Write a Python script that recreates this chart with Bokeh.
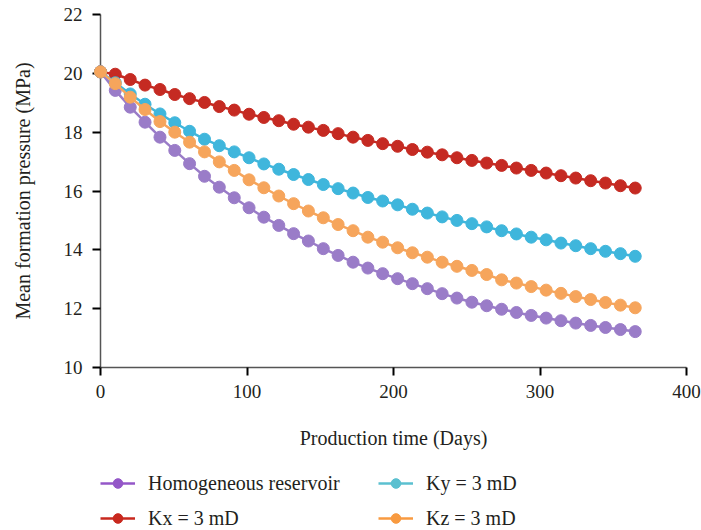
from bokeh.plotting import figure
from bokeh.models import Range1d, FixedTicker, Legend, LegendItem
from bokeh.layouts import column
from bokeh.embed import file_html
from bokeh.resources import INLINE

days = [0, 10.1, 20.3, 30.4, 40.6, 50.7, 60.8, 71.0, 81.1, 91.3, 101.4, 111.5,
        121.7, 131.8, 141.9, 152.1, 162.2, 172.4, 182.5, 192.6, 202.8, 212.9,
        223.1, 233.2, 243.3, 253.5, 263.6, 273.8, 283.9, 294.0, 304.2, 314.3,
        324.4, 334.6, 344.7, 354.9, 365.0]

homogeneous = [20.05, 19.42, 18.85, 18.34, 17.83, 17.38, 16.93, 16.50, 16.13, 15.77,
               15.43, 15.11, 14.83, 14.55, 14.30, 14.04, 13.81, 13.58, 13.38, 13.19,
               13.02, 12.85, 12.68, 12.51, 12.36, 12.22, 12.10, 11.98, 11.87, 11.77,
               11.68, 11.59, 11.51, 11.43, 11.36, 11.29, 11.22]

kx = [20.05, 19.97, 19.79, 19.60, 19.45, 19.28, 19.14, 19.01, 18.87, 18.75,
      18.61, 18.50, 18.39, 18.27, 18.17, 18.06, 17.95, 17.83, 17.72, 17.61,
      17.52, 17.41, 17.32, 17.23, 17.13, 17.04, 16.95, 16.87, 16.78, 16.70,
      16.61, 16.52, 16.44, 16.35, 16.27, 16.18, 16.10]

ky = [20.05, 19.68, 19.30, 18.95, 18.62, 18.32, 18.03, 17.76, 17.54, 17.33,
      17.13, 16.92, 16.74, 16.56, 16.39, 16.22, 16.08, 15.93, 15.78, 15.66,
      15.53, 15.38, 15.25, 15.12, 15.00, 14.89, 14.78, 14.65, 14.54, 14.43,
      14.34, 14.23, 14.14, 14.04, 13.95, 13.87, 13.78]

kz = [20.05, 19.65, 19.19, 18.77, 18.36, 18.00, 17.66, 17.33, 16.99, 16.70,
      16.38, 16.11, 15.83, 15.57, 15.32, 15.09, 14.86, 14.65, 14.43, 14.26,
      14.07, 13.90, 13.75, 13.58, 13.44, 13.30, 13.16, 12.98, 12.87, 12.75,
      12.63, 12.52, 12.41, 12.31, 12.21, 12.12, 12.03]

labels = ["Homogeneous reservoir", "Kx = 3 mD", "Ky = 3 mD", "Kz = 3 mD"]
colors = ["#9a7cc8", "#c52a22", "#3fb6dc", "#f6a55c"]
legend_colors = ["#9457c8", "#c8281e", "#5bc0d0", "#f89a40"]
series = [homogeneous, kx, ky, kz]
x_ticks = [0, 100, 200, 300, 400]
y_ticks = [10, 12, 14, 16, 18, 20, 22]

FONT = "Liberation Serif"
TXT = "#231f20"

p = figure(width=701, height=455, x_range=Range1d(0, 400), y_range=Range1d(10, 22),
           output_backend="svg", toolbar_location=None,
           min_border_left=100, min_border_right=15, min_border_top=14,
           min_border_bottom=88)
p.outline_line_color = None
p.xgrid.visible = False
p.ygrid.visible = False

p.xaxis.ticker = FixedTicker(ticks=x_ticks)
p.yaxis.ticker = FixedTicker(ticks=y_ticks)
p.xaxis.axis_label = "Production time (Days)"
p.yaxis.axis_label = "Mean formation pressure (MPa)"
for ax in [p.xaxis[0], p.yaxis[0]]:
    ax.axis_line_color = "#555555"
    ax.axis_line_width = 1.5
    ax.major_tick_line_color = "black"
    ax.major_tick_line_width = 2
    ax.major_tick_out = 8
    ax.major_tick_in = 0
    ax.minor_tick_line_color = None
    ax.major_label_text_font = FONT
    ax.major_label_text_font_size = "19px"
    ax.major_label_text_color = TXT
    ax.axis_label_text_font = FONT
    ax.axis_label_text_font_size = "20px"
    ax.axis_label_text_font_style = "normal"
    ax.axis_label_text_color = TXT
p.xaxis.major_label_standoff = 9
p.yaxis.major_label_standoff = 10
p.xaxis.axis_label_standoff = 26
p.yaxis.axis_label_standoff = 27

for vals, col in zip(series, colors):
    p.line(days, vals, line_color=col, line_width=2.5, level="overlay")
    p.scatter(days, vals, size=12, fill_color=col, line_color=col, level="overlay")

# legend panel below the chart: same series, drawn outside its (clipped) frame,
# so only the legend glyphs show
lg = figure(width=701, height=75, output_backend="svg", toolbar_location=None,
            x_range=Range1d(0, 1), y_range=Range1d(0, 1),
            x_axis_type=None, y_axis_type=None, min_border=0)
lg.outline_line_color = None
lg.xgrid.visible = False
lg.ygrid.visible = False

items = []
for lab, vals, col in zip(labels, series, legend_colors):
    ln = lg.line(days, vals, line_color=col, line_width=2.5)
    sc = lg.scatter(days, vals, size=10, fill_color=col, line_color=col)
    items.append(LegendItem(label=lab, renderers=[ln, sc]))

common = dict(border_line_color=None, background_fill_alpha=0, padding=0,
              glyph_width=35, glyph_height=24, label_height=20, label_standoff=13,
              spacing=11, label_text_font=FONT, label_text_font_size="20px",
              label_text_color=TXT)
leg1 = Legend(items=[items[0], items[1]], location=(0, 0), **common)
leg2 = Legend(items=[items[2], items[3]], location=(278, 0), **common)
lg.add_layout(leg1)
lg.add_layout(leg2)

layout = column(p, lg)
open("out.html", "w").write(file_html(layout, INLINE))
